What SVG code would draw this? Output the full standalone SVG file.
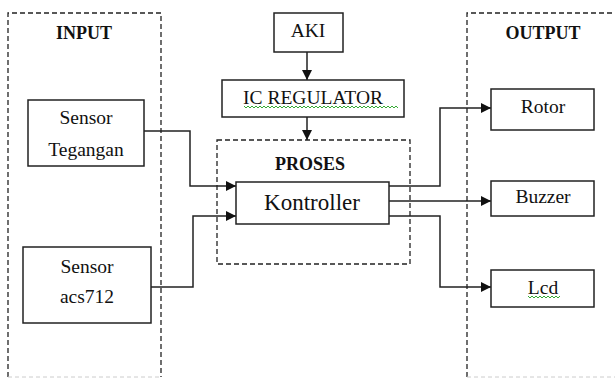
<svg xmlns="http://www.w3.org/2000/svg" width="615" height="378" viewBox="0 0 615 378">
<style>
.box{fill:#fff;stroke:#222;stroke-width:1.5}
.dash{fill:none;stroke:#222;stroke-width:1.3;stroke-dasharray:5 3}
.faint{fill:none;stroke:#ccc;stroke-width:1;stroke-dasharray:4 3}
.t{font-family:"Liberation Serif",serif;font-size:19.5px;fill:#111;text-anchor:middle}
.b{font-family:"Liberation Serif",serif;font-size:18px;font-weight:bold;fill:#111;text-anchor:middle}
.k{font-size:23px}
.wire{fill:none;stroke:#222;stroke-width:1.5}
.sq{fill:none;stroke:#3a3;stroke-width:1}
</style>
<defs>
<marker id="arr" viewBox="0 0 10 10" refX="10" refY="5" markerWidth="10" markerHeight="10" markerUnits="userSpaceOnUse" orient="auto">
<path d="M0,0 L10,5 L0,10 z" fill="#111"/>
</marker>
</defs>
<rect width="615" height="378" fill="#fff"/>
<g id="input-group">
<path class="dash" d="M8,377 V13 H161 V377"/>
<path class="faint" d="M8,377 H161"/>
<text class="b" x="84" y="39">INPUT</text>
</g>
<g id="output-group">
<path class="dash" d="M467,377 V13 H615"/>
<path class="faint" d="M467,377 H615"/>
<text class="b" x="543" y="39">OUTPUT</text>
</g>
<g id="proses-group">
<rect class="dash" x="217" y="140" width="193" height="124"/>
<text class="b" x="310" y="170">PROSES</text>
</g>
<g id="connectors">
<path class="wire" marker-end="url(#arr)" d="M307,52 V80"/>
<path class="wire" marker-end="url(#arr)" d="M307,117 V140"/>
<path class="wire" marker-end="url(#arr)" d="M144,131 H190 V186 H236"/>
<path class="wire" marker-end="url(#arr)" d="M151,287 H193 V216 H236"/>
<path class="wire" marker-end="url(#arr)" d="M389,186 H440 V108 H491"/>
<path class="wire" marker-end="url(#arr)" d="M389,201 H491"/>
<path class="wire" marker-end="url(#arr)" d="M389,216 H440 V287 H491"/>
</g>
<g id="aki">
<rect class="box" x="274" y="13" width="69" height="39"/>
<text class="t" x="308" y="37">AKI</text>
</g>
<g id="ic-regulator">
<rect class="box" x="222" y="80" width="182" height="37"/>
<text class="t" x="313" y="104">IC REGULATOR</text>
<path class="sq" d="M244,106 l2,2 l2,-2 l2,2 l2,-2 l2,2 l2,-2 l2,2 l2,-2 l2,2 l2,-2 l2,2 l2,-2 l2,2 l2,-2 l2,2 l2,-2 l2,2 l2,-2 l2,2 l2,-2 l2,2 l2,-2 l2,2 l2,-2 l2,2 l2,-2 l2,2 l2,-2 l2,2 l2,-2 l2,2 l2,-2 l2,2 l2,-2 l2,2 l2,-2 l2,2 l2,-2 l2,2 l2,-2 l2,2 l2,-2 l2,2 l2,-2 l2,2 l2,-2 l2,2 l2,-2 l2,2 l2,-2 l2,2 l2,-2 l2,2 l2,-2 l2,2 l2,-2 l2,2 l2,-2 l2,2 l2,-2 l2,2 l2,-2 l2,2 l2,-2 l2,2 l2,-2 l2,2 l2,-2 l2,2 l2,-2 l2,2 l2,-2 l2,2 l2,-2 l2,2 l2,-2 l2,2"/>
</g>
<g id="sensor-tegangan">
<rect class="box" x="28" y="100" width="116" height="66"/>
<text class="t" x="86" y="124">Sensor</text>
<text class="t" x="86" y="156">Tegangan</text>
</g>
<g id="sensor-acs712">
<rect class="box" x="23" y="247" width="128" height="76"/>
<text class="t" x="87" y="273">Sensor</text>
<text class="t" x="87" y="303">acs712</text>
</g>
<g id="kontroller">
<rect class="box" x="236" y="182" width="153" height="42"/>
<text class="t k" x="312" y="210">Kontroller</text>
</g>
<g id="rotor">
<rect class="box" x="491" y="89" width="103" height="41"/>
<text class="t" x="543" y="113">Rotor</text>
</g>
<g id="buzzer">
<rect class="box" x="491" y="181" width="103" height="35"/>
<text class="t" x="543" y="203">Buzzer</text>
</g>
<g id="lcd">
<rect class="box" x="491" y="270" width="103" height="37"/>
<text class="t" x="543" y="294">Lcd</text>
<path class="sq" d="M528,296 l2,2 l2,-2 l2,2 l2,-2 l2,2 l2,-2 l2,2 l2,-2 l2,2 l2,-2 l2,2 l2,-2 l2,2 l2,-2 l2,2 l2,-2"/>
</g>
</svg>
